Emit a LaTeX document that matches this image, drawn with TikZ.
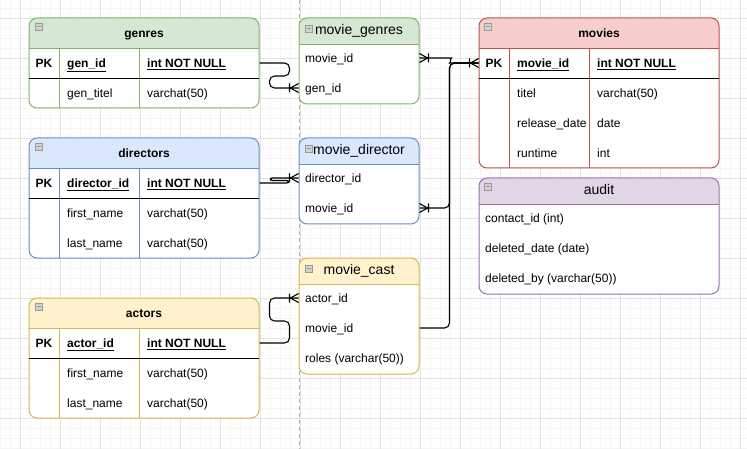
\documentclass[tikz,border=0pt]{standalone}
\usepackage{fontspec}
\setmainfont{Liberation Sans}
\usetikzlibrary{positioning}

\definecolor{grfill}{HTML}{D5E8D4}
\definecolor{grline}{HTML}{82B366}
\definecolor{rdfill}{HTML}{F8CECC}
\definecolor{rdline}{HTML}{B85450}
\definecolor{blfill}{HTML}{DAE8FC}
\definecolor{blline}{HTML}{6C8EBF}
\definecolor{vifill}{HTML}{E1D5E7}
\definecolor{viline}{HTML}{9673A6}
\definecolor{yefill}{HTML}{FFF2CC}
\definecolor{yeline}{HTML}{D6B656}

\pgfarrowsdeclare{crow}{crow}
{\pgfarrowsleftextend{-9pt}\pgfarrowsrightextend{0pt}}
{\pgfsetdash{}{0pt}\pgfsetmiterjoin
 \pgfpathmoveto{\pgfpoint{0pt}{4.5pt}}
 \pgfpathlineto{\pgfpoint{-8pt}{0pt}}
 \pgfpathlineto{\pgfpoint{0pt}{-4.5pt}}
 \pgfpathmoveto{\pgfpoint{-9pt}{4.5pt}}
 \pgfpathlineto{\pgfpoint{-9pt}{-4.5pt}}
 \pgfusepathqstroke}

\begin{document}
\begin{tikzpicture}[x=1pt,y=-1pt,
 tab/.style n args={3}{draw=#1,fill=white,rounded corners=8pt,inner sep=0pt,line width=1pt,
  path picture={\fill[#2,sharp corners] (path picture bounding box.north west) rectangle ([yshift=-#3]path picture bounding box.north east);}},
 fld/.style={anchor=west,inner sep=0pt,text height=10pt,text depth=1.4pt,font=\fontsize{12}{14}\selectfont},
 pk/.style={fld,anchor=center,font=\fontsize{12}{14}\selectfont\bfseries},
 hdr/.style={inner sep=0pt,text height=10pt,text depth=1.4pt,font=\fontsize{12}{14}\selectfont\bfseries},
 ttl/.style={inner sep=0pt,text height=10pt,text depth=3pt,font=\fontsize{14}{16}\selectfont},
 mbox/.style={draw=gray!80,fill=gray!35,line width=0.7pt,sharp corners},
 rel/.style={draw=black,line width=1.1pt,rounded corners=5pt},
 minorgrid/.style={draw=black!4,line width=0.8pt},
 majorgrid/.style={draw=black!11,line width=0.8pt},
 pagebreak/.style={draw=gray!60,dash pattern=on 4pt off 3pt,line width=0.8pt}]
 \useasboundingbox (0,0) rectangle (747,449);
 \fill[white] (0,0) rectangle (747,449);
 \foreach \x in {0,10,...,740} \draw[minorgrid] (\x,0) -- (\x,449);
 \foreach \y in {8,18,...,448} \draw[minorgrid] (0,\y) -- (747,\y);
 \foreach \x in {20,60,...,740} \draw[majorgrid] (\x,0) -- (\x,449);
 \foreach \y in {18,58,...,418} \draw[majorgrid] (0,\y) -- (747,\y);
 \draw[pagebreak] (299,0) -- (299,449);

 \node[tab={grline}{grfill}{30pt},minimum width=230pt,minimum height=90pt] (genrestab) at (144,63) {};
 \draw[grline] (29,48) -- (259,48) (59,48) -- (59,108) (139,48) -- (139,108);
 \draw (29,78) -- (259,78);
 \draw[mbox] (35,23) rectangle ++(7,7) (36.5,26.5) -- ++(4,0);
 \node[hdr] (genres) at (144,33) {genres};
 \node[pk] (genpk) at (44,63) {PK};
 \node[fld] (genid) at (67,63) {\underline{\textbf{gen\_id}}};
 \node[fld] (genidtype) at (147,63) {\underline{\textbf{int NOT NULL}}};
 \node[fld] (gentitel) at (67,93) {gen\_titel};
 \node[fld] (gentiteltype) at (147,93) {varchat(50)};

 \node[tab={rdline}{rdfill}{30pt},minimum width=240pt,minimum height=150pt] (movtab) at (599,93) {};
 \draw[rdline] (479,48) -- (719,48) (509,48) -- (509,168) (589,48) -- (589,168);
 \draw (479,78) -- (719,78);
 \draw[mbox] (484,23) rectangle ++(7,7) (485.5,26.5) -- ++(4,0);
 \node[hdr] (movies) at (599,33) {movies};
 \node[pk] (movpk) at (494,63) {PK};
 \node[fld] (movid) at (517,63) {\underline{\textbf{movie\_id}}};
 \node[fld] (movidtype) at (597,63) {\underline{\textbf{int NOT NULL}}};
 \node[fld] (movtitel) at (517,93) {titel};
 \node[fld] (movtiteltype) at (597,93) {varchat(50)};
 \node[fld] (movdate) at (517,123) {release\_date};
 \node[fld] (movdatetype) at (597,123) {date};
 \node[fld] (movrun) at (517,153) {runtime};
 \node[fld] (movruntype) at (597,153) {int};

 \node[tab={blline}{blfill}{30pt},minimum width=230pt,minimum height=120pt] (dirtab) at (144,198) {};
 \draw[blline] (29,168) -- (259,168) (59,168) -- (59,258) (139,168) -- (139,258);
 \draw (29,198) -- (259,198);
 \draw[mbox] (35,143) rectangle ++(7,7) (36.5,146.5) -- ++(4,0);
 \node[hdr] (directors) at (144,153) {directors};
 \node[pk] (dirpk) at (44,183) {PK};
 \node[fld] (dirid) at (67,183) {\underline{\textbf{director\_id}}};
 \node[fld] (diridtype) at (147,183) {\underline{\textbf{int NOT NULL}}};
 \node[fld] (dirfirst) at (67,213) {first\_name};
 \node[fld] (dirfirsttype) at (147,213) {varchat(50)};
 \node[fld] (dirlast) at (67,243) {last\_name};
 \node[fld] (dirlasttype) at (147,243) {varchat(50)};

 \node[tab={yeline}{yefill}{30pt},minimum width=230pt,minimum height=120pt] (acttab) at (144,358) {};
 \draw[yeline] (29,328) -- (259,328) (59,328) -- (59,418) (139,328) -- (139,418);
 \draw (29,358) -- (259,358);
 \draw[mbox] (35,303) rectangle ++(7,7) (36.5,306.5) -- ++(4,0);
 \node[hdr] (actors) at (144,313) {actors};
 \node[pk] (actpk) at (44,343) {PK};
 \node[fld] (actid) at (67,343) {\underline{\textbf{actor\_id}}};
 \node[fld] (actidtype) at (147,343) {\underline{\textbf{int NOT NULL}}};
 \node[fld] (actfirst) at (67,373) {first\_name};
 \node[fld] (actfirsttype) at (147,373) {varchat(50)};
 \node[fld] (actlast) at (67,403) {last\_name};
 \node[fld] (actlasttype) at (147,403) {varchat(50)};

 \node[tab={grline}{grfill}{26pt},minimum width=120pt,minimum height=86pt] (mgtab) at (359,61) {};
 \draw[grline] (299,44) -- (419,44);
 \draw[mbox] (305,25) rectangle ++(7,7) (306.5,28.5) -- ++(4,0);
 \node[ttl] (mgtitle) at (359,31) {movie\_genres};
 \node[fld] (mgmovie) at (305,58) {movie\_id};
 \node[fld] (mggenid) at (305,88) {gen\_id};

 \node[tab={blline}{blfill}{26pt},minimum width=120pt,minimum height=86pt] (mdtab) at (359,181) {};
 \draw[blline] (299,164) -- (419,164);
 \draw[mbox] (305,145) rectangle ++(7,7) (306.5,148.5) -- ++(4,0);
 \node[ttl] (mdtitle) at (359,151) {movie\_director};
 \node[fld] (mddir) at (305,178) {director\_id};
 \node[fld] (mdmovie) at (305,208) {movie\_id};

 \node[tab={yeline}{yefill}{26pt},minimum width=120pt,minimum height=116pt] (mctab) at (359,316) {};
 \draw[yeline] (299,284) -- (419,284);
 \draw[mbox] (305,265) rectangle ++(7,7) (306.5,268.5) -- ++(4,0);
 \node[ttl] (mctitle) at (359,271) {movie\_cast};
 \node[fld] (mcactor) at (305,298) {actor\_id};
 \node[fld] (mcmovie) at (305,328) {movie\_id};
 \node[fld] (mcroles) at (305,358) {roles (varchar(50))};

 \node[tab={viline}{vifill}{26pt},minimum width=240pt,minimum height=116pt] (audtab) at (599,236) {};
 \draw[viline] (479,204) -- (719,204);
 \draw[mbox] (484,183) rectangle ++(7,7) (485.5,186.5) -- ++(4,0);
 \node[ttl] (audit) at (599,191) {audit};
 \node[fld] (audcontact) at (485,218) {contact\_id (int)};
 \node[fld] (auddate) at (485,248) {deleted\_date (date)};
 \node[fld] (audby) at (485,278) {deleted\_by (varchar(50))};

 \draw[rel,-crow] (genrestab.east |- genid) -- ++(30,0) -- ++(0,13) -- ++(-20,0) |- (mgtab.west |- mggenid);
 \draw[rel,rounded corners=1.5pt,-crow] (dirtab.east |- dirid) -- ++(29,0) -- ++(0,-2.5) -- ++(-18,0) |- (mdtab.west |- mddir);
 \draw[rel,-crow] (acttab.east |- actid) -- ++(30,0) -- ++(0,-22) -- ++(-20,0) |- (mctab.west |- mcactor);
 \draw[rel,crow-crow] (mgtab.east |- mgmovie) -- ++(27,0) to[out=0,in=180] ++(8,5) -- (movtab.west |- movid);
 \draw[rel,crow-] (mdtab.east |- mdmovie) -- ++(30,0) |- (movtab.west |- movid);
 \draw[rel] (mctab.east |- mcmovie) -- ++(30,0) |- (movtab.west |- movid);
\end{tikzpicture}
\end{document}
